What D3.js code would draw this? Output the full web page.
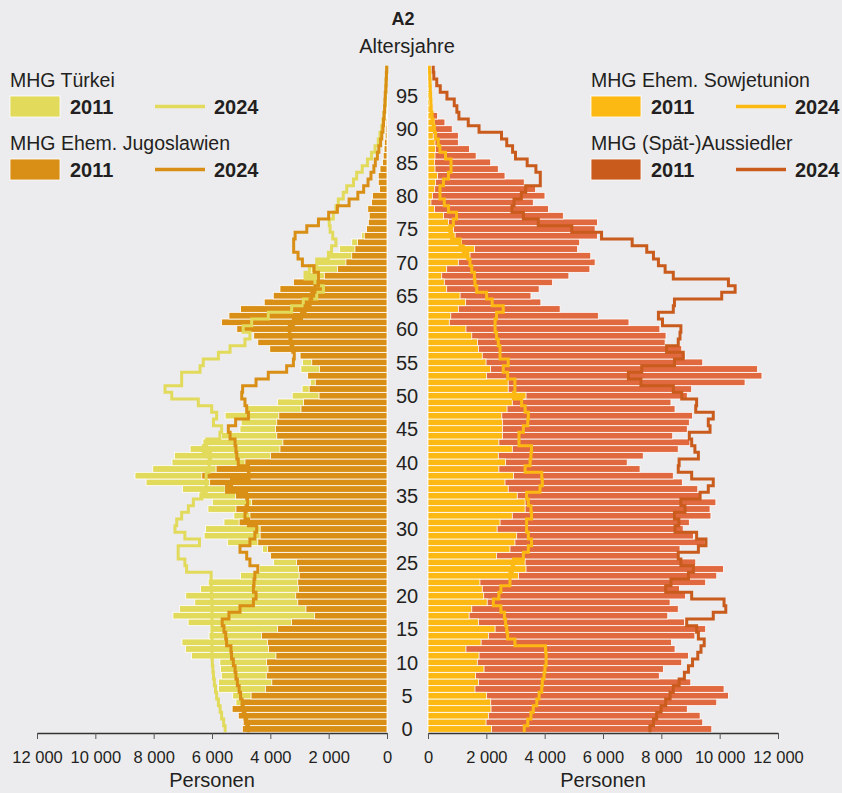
<!DOCTYPE html>
<html>
<head>
<meta charset="utf-8">
<script src="https://cdn.jsdelivr.net/npm/d3@7"></script>
<style>
  html, body { margin: 0; padding: 0; background: #ececee; }
  svg { display: block; font-family: "Liberation Sans", Arial, sans-serif; }
</style>
</head>
<body>
<div id="chart"></div>
<script>
// Altersjahre 0..99 (index = age)
const ages = d3.range(0, 100);
const ageTicks = d3.range(0, 100, 5);
const xTicks = [0, 2000, 4000, 6000, 8000, 10000, 12000];

// Left side
const tuerkei2011 = [4700, 4600, 4800, 5000, 5180, 5290, 5780, 5780, 5680, 5710,
  5730, 6700, 6910, 7030, 6100, 6060, 6820, 7340, 7110, 6590,
  6900, 6390, 6130, 5020, 4380, 3890, 3800, 4270, 5470, 6270,
  6220, 5590, 5250, 6140, 5990, 6450, 7010, 8260, 8640, 8030,
  7370, 7290, 6750, 6310, 5670, 5040, 5000, 5550, 4780, 3750,
  3250, 2910, 2630, 2600, 2950, 2900, 2800, 3600, 4000, 4200,
  4600, 5000, 4800, 4500, 3800, 3500, 3200, 3100, 2810, 2600,
  2410, 2050, 1630, 1210, 870, 550, 500, 480, 500, 420,
  380, 220, 240, 240, 200, 130, 120, 110, 100, 80,
  60, 40, 20, 10, 5, 0, 0, 0, 0, 0];
const jugoslawien2011 = [4960, 4930, 5100, 5310, 4960, 4660, 4170, 3950, 4140, 4080,
  4130, 3810, 4060, 4100, 4300, 3750, 3270, 2490, 2780, 3060,
  3130, 3040, 3060, 3010, 3030, 3100, 3990, 4100, 4430, 4350,
  4350, 5070, 4700, 5180, 4640, 5190, 5550, 6080, 6350, 5860,
  4870, 3990, 3670, 3570, 3780, 3820, 3780, 3710, 2950, 2860,
  2330, 2670, 2460, 2720, 2320, 2580, 2980, 4020, 4430, 4570,
  5150, 5670, 5420, 5020, 4210, 3900, 3670, 3210, 2150, 1700,
  1410, 1210, 1100, 1010, 780, 700, 640, 610, 660, 530,
  500, 260, 300, 300, 240, 150, 130, 100, 90, 60,
  40, 30, 20, 15, 10, 5, 5, 0, 0, 0];
const tuerkei2024 = [5550, 5600, 5670, 5720, 5780, 5840, 5880, 5920, 5950, 5970,
  5990, 6000, 6000, 6000, 6000, 6000, 6000, 6000, 5990, 6000,
  6010, 6020, 6030, 6030, 6870, 6930, 7160, 7160, 6430, 6930,
  7270, 7210, 7040, 6810, 6640, 6350, 6200, 6200, 6200, 6100,
  6100, 6050, 6300, 6180, 5730, 5670, 5950, 5840, 6010, 6470,
  7380, 7610, 7040, 7040, 6410, 6300, 5780, 5380, 4870, 4700,
  4930, 4640, 4070, 3270, 2870, 2410, 2180, 2470, 2810, 2660,
  2410, 2010, 1900, 1750, 1860, 1950, 1980, 1840, 1750, 1670,
  1500, 1380, 1150, 1040, 850, 670, 530, 410, 300, 240,
  180, 140, 100, 80, 60, 50, 40, 30, 20, 10];
const jugoslawien2024 = [4750, 4810, 4870, 4930, 4970, 5020, 5070, 5130, 5180, 5210,
  5270, 5330, 5350, 5500, 5530, 5590, 5650, 5420, 5040, 4580,
  4490, 4580, 4560, 4530, 4430, 4700, 4810, 5040, 4700, 4530,
  4470, 4750, 4870, 4830, 4780, 4810, 5500, 5330, 4730, 4750,
  5100, 5150, 5180, 5210, 5380, 5440, 5190, 4750, 4810, 4870,
  4980, 4950, 4490, 4070, 3440, 3210, 3180, 3230, 3290, 3330,
  3350, 3210, 2930, 2810, 2640, 2580, 2470, 2350, 2350, 2500,
  2900, 3050, 3200, 3200, 3150, 2750, 2350, 2000, 1700, 1300,
  1000, 800, 650, 550, 450, 400, 330, 280, 220, 180,
  140, 120, 100, 80, 70, 60, 40, 30, 20, 10];

// Right side
const sowjetunion2011 = [2180, 1990, 2070, 2160, 2150, 2010, 1610, 1730, 1630, 1920,
  1690, 1750, 1300, 1820, 2070, 2300, 1730, 1410, 1500, 2030,
  1910, 1860, 1780, 3100, 3360, 3330, 2350, 2810, 2980, 3040,
  2370, 2470, 2890, 3330, 3330, 3060, 2750, 2640, 2930, 2430,
  2660, 2410, 2890, 2430, 2550, 2550, 2550, 2530, 2710, 2890,
  3360, 2750, 2750, 2010, 2140, 1990, 1860, 1730, 1700, 1500,
  1300, 730, 780, 1040, 1290, 1100, 640, 560, 470, 640,
  1040, 1440, 1590, 1150, 930, 870, 700, 530, 220, 100,
  150, 230, 260, 330, 240, 220, 240, 260, 240, 180,
  240, 220, 150, 80, 60, 50, 30, 30, 20, 20];
const aussiedler2011 = [9730, 9420, 9330, 8890, 9900, 10300, 10150, 9010, 7930, 8070,
  8700, 8930, 8470, 8350, 9150, 9520, 8790, 8220, 8580, 8300,
  8830, 8620, 9520, 9900, 10130, 9180, 8550, 8640, 9500, 9100,
  8750, 8960, 9700, 9670, 9870, 9360, 9250, 8720, 8410, 7270,
  6830, 7380, 8580, 8980, 8390, 8890, 8960, 9070, 8470, 8330,
  8890, 9040, 10870, 11450, 11300, 9420, 8810, 8700, 8130, 8160,
  7950, 6890, 5840, 4530, 3870, 3530, 3810, 4270, 4830, 5550,
  5730, 5580, 5130, 5200, 5810, 5730, 5810, 4640, 4130, 3610,
  4010, 3690, 3300, 2640, 2410, 2150, 1650, 1420, 1040, 1040,
  830, 580, 330, 0, 0, 0, 0, 0, 0, 0];
const sowjetunion2024 = [3300, 3420, 3530, 3610, 3730, 3810, 3900, 3920, 3980, 4010,
  4050, 4050, 4030, 2980, 2730, 2700, 2660, 2620, 2500, 2240,
  2430, 2500, 2810, 2810, 2890, 2930, 3270, 3440, 3550, 3440,
  3380, 3380, 3550, 3530, 3440, 3380, 3840, 3920, 3900, 3330,
  3500, 3530, 3550, 3120, 3120, 3270, 3420, 3440, 3330, 3210,
  2930, 2980, 2980, 2730, 2580, 2750, 2470, 2470, 2410, 2350,
  2300, 2300, 2350, 2580, 2200, 2010, 1670, 1610, 1590, 1500,
  1440, 1360, 1210, 1100, 810, 750, 870, 980, 700, 560,
  410, 410, 530, 700, 790, 790, 600, 410, 350, 260,
  220, 180, 140, 110, 100, 90, 80, 70, 60, 50];
const aussiedler2024 = [7610, 7730, 7840, 7990, 8150, 8300, 8410, 8610, 8790, 8930,
  9070, 9250, 9360, 9470, 9270, 9210, 8870, 9780, 10210, 10150,
  9040, 8150, 8330, 8930, 9100, 8670, 8580, 9270, 9530, 9210,
  8470, 8600, 8450, 8810, 8670, 9330, 9610, 9780, 9040, 8580,
  8610, 9270, 9150, 9040, 8960, 9670, 9610, 9780, 9180, 9210,
  8700, 8410, 7300, 6870, 7330, 8450, 8750, 8180, 8580, 8640,
  8670, 8040, 7900, 8410, 8450, 10070, 10530, 10300, 8410, 8130,
  7900, 7730, 7500, 7000, 5950, 4930, 3780, 3270, 2880, 2950,
  3200, 3350, 3850, 3850, 3700, 3400, 3000, 2900, 2700, 2520,
  1750, 1380, 1060, 990, 900, 650, 420, 300, 200, 180];

const colTuerkei = '#e2da5b';
const colJugo = '#d98f15';
const colSowjet = '#fdb913';
const colAussBar = '#e0693f';
const colAuss = '#c95b1c';
const textCol = '#231f20';

const width = 842, height = 793;

const svg = d3.select('#chart').append('svg')
  .attr('width', width)
  .attr('height', height);

svg.append('rect').attr('width', width).attr('height', height).attr('fill', '#ececee');

// scales
const y = d3.scaleLinear().domain([0, 100]).range([732.3, 65.7]);
const xL = d3.scaleLinear().domain([0, 12000]).range([387, 37]);
const xR = d3.scaleLinear().domain([0, 12000]).range([428, 778]);

// bars, larger series behind
function bars(values, x, color) {
  svg.append('g')
    .selectAll('rect')
    .data(values)
    .enter().append('rect')
    .attr('x', d => Math.min(x(0), x(d)))
    .attr('width', d => Math.abs(x(d) - x(0)))
    .attr('y', (d, i) => y(i + 1))
    .attr('height', (d, i) => y(i) - y(i + 1))
    .attr('fill', color)
    .attr('stroke', '#fff')
    .attr('stroke-width', 0.8);
}

bars(tuerkei2011, xL, colTuerkei);
bars(jugoslawien2011, xL, colJugo);
bars(aussiedler2011, xR, colAussBar);
bars(sowjetunion2011, xR, colSowjet);

// step lines for 2024
function stepLine(values, x, color) {
  let pts = [];
  values.forEach((v, i) => { pts.push([v, i]); pts.push([v, i + 1]); });
  const line = d3.line().x(d => x(d[0])).y(d => y(d[1]));
  svg.append('path')
    .datum(pts)
    .attr('fill', 'none')
    .attr('stroke', color)
    .attr('stroke-width', 3)
    .attr('stroke-linejoin', 'miter')
    .attr('d', line);
}

stepLine(tuerkei2024, xL, colTuerkei);
stepLine(jugoslawien2024, xL, colJugo);
stepLine(aussiedler2024, xR, colAuss);
stepLine(sowjetunion2024, xR, colSowjet);

// x axes
const fmt = v => d3.format(',')(v).replace(/,/g, ' ');
function axis(x, cx) {
  const g = svg.append('g')
    .attr('transform', 'translate(0,733)')
    .call(d3.axisBottom(x).tickValues(xTicks).tickSize(6).tickSizeOuter(0).tickPadding(12).tickFormat(fmt));
  g.select('.domain').attr('stroke', '#333').attr('stroke-width', 1.5);
  g.selectAll('.tick line').attr('stroke', '#555');
  g.selectAll('.tick text').attr('font-size', 16.5).attr('fill', textCol)
    .attr('font-family', '"Liberation Sans", Arial, sans-serif');
  svg.append('text').attr('x', cx).attr('y', 787).attr('text-anchor', 'middle')
    .attr('font-size', 20).attr('fill', textCol).text('Personen');
}
axis(xL, 212);
axis(xR, 603);

// age labels
svg.append('g').selectAll('text')
  .data(ageTicks)
  .enter().append('text')
  .attr('x', 407)
  .attr('y', d => y(d + 0.5))
  .attr('dy', '0.36em')
  .attr('text-anchor', 'middle')
  .attr('font-size', 20)
  .attr('fill', textCol)
  .text(d => d);

// titles
svg.append('text').attr('x', 403).attr('y', 25).attr('text-anchor', 'middle')
  .attr('font-size', 18).attr('font-weight', 'bold').attr('fill', textCol).text('A2');
svg.append('text').attr('x', 407).attr('y', 52.5).attr('text-anchor', 'middle')
  .attr('font-size', 20).attr('fill', textCol).text('Altersjahre');

// legends
const legend = [
  { name: 'MHG Türkei', color: colTuerkei, line: colTuerkei, x: 10, y: 80 },
  { name: 'MHG Ehem. Jugoslawien', color: colJugo, line: colJugo, x: 10, y: 143 },
  { name: 'MHG Ehem. Sowjetunion', color: colSowjet, line: colSowjet, x: 591, y: 80 },
  { name: 'MHG (Spät-)Aussiedler', color: colAuss, line: colAuss, x: 591, y: 143 }
];
legend.forEach(l => {
  const g = svg.append('g').attr('transform', 'translate(' + l.x + ',' + l.y + ')');
  g.append('text').attr('y', 7).attr('font-size', 19.5).attr('fill', textCol).text(l.name);
  g.append('rect').attr('x', 0).attr('y', 16).attr('width', 50).attr('height', 21)
    .attr('fill', l.color).attr('stroke', '#fff').attr('stroke-width', 0.8);
  g.append('text').attr('x', 60).attr('y', 33.5).attr('font-size', 20).attr('font-weight', 'bold')
    .attr('fill', textCol).text('2011');
  g.append('line').attr('x1', 145).attr('x2', 195).attr('y1', 26.5).attr('y2', 26.5)
    .attr('stroke', l.line).attr('stroke-width', 3.5);
  g.append('text').attr('x', 204).attr('y', 33.5).attr('font-size', 20).attr('font-weight', 'bold')
    .attr('fill', textCol).text('2024');
});
</script>
</body>
</html>
